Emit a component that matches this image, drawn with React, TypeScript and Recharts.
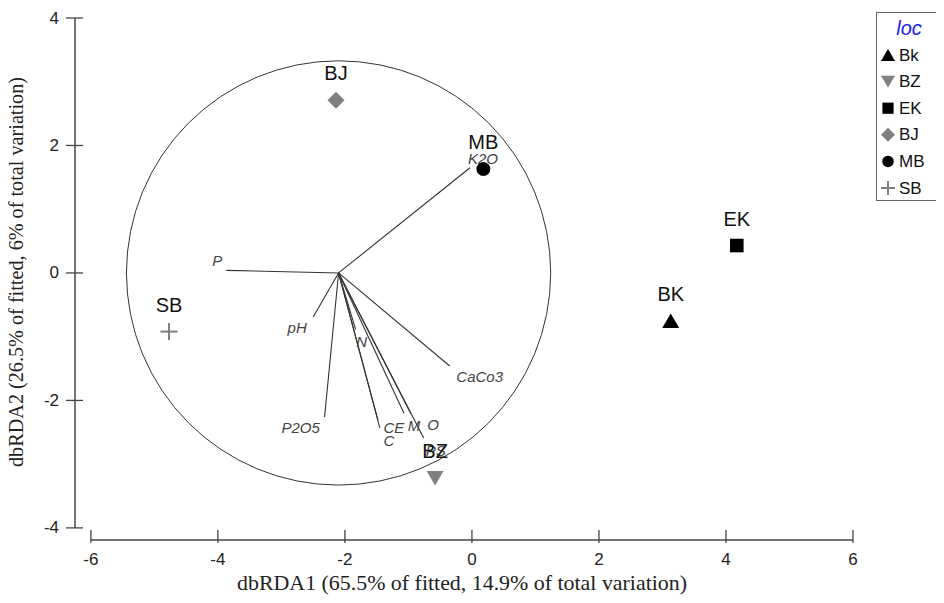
import {
  Label,
  Legend,
  ReferenceDot,
  ReferenceLine,
  Scatter,
  ScatterChart,
  XAxis,
  YAxis,
} from "recharts";

// sample scores (dbRDA1, dbRDA2) per location
const sites = ["BK", "BZ", "EK", "BJ", "MB", "SB"];
const legendLabels = ["Bk", "BZ", "EK", "BJ", "MB", "SB"];
const dbRDA1 = [3.13, -0.58, 4.17, -2.14, 0.18, -4.77];
const dbRDA2 = [-0.75, -3.22, 0.43, 2.71, 1.63, -0.92];

// predictor vectors, drawn from the vector origin
const vectorNames = ["P", "K2O", "pH", "P2O5", "N", "CE", "C", "M", "O", "PS", "CaCo3"];
const vectorX = [-3.87, -0.03, -2.5, -2.32, -1.83, -1.48, -1.45, -1.07, -0.96, -0.76, -0.35];
const vectorY = [0.04, 1.65, -0.69, -2.26, -0.89, -2.31, -2.43, -2.2, -2.21, -2.59, -1.46];
const vectorOrigin = { x: -2.1, y: 0 };
const circleRadius = 3.34;

const xTicks = [-6, -4, -2, 0, 2, 4, 6];
const yTicks = [-4, -2, 0, 2, 4];

const X_DOMAIN: [number, number] = [-6.25, 6];
const Y_DOMAIN: [number, number] = [-4.19, 4];

const CHART_W = 944;
const CHART_H = 603;
const AXIS_W = 75;
const AXIS_H = 63;
const MARGIN = { top: 18, right: 91, bottom: 0, left: 0 };
const PX_PER_UNIT = (CHART_W - AXIS_W - MARGIN.right) / (X_DOMAIN[1] - X_DOMAIN[0]);

const SANS = "'Liberation Sans', Arial, sans-serif";
const SERIF = "'Liberation Serif', 'Times New Roman', serif";
const AXIS_COLOR = "#444";
const GREY = "#7f7f7f";

const markerStyle: Record<string, { fill: string }> = {
  BK: { fill: "#000" },
  BZ: { fill: GREY },
  EK: { fill: "#000" },
  BJ: { fill: GREY },
  MB: { fill: "#000" },
  SB: { fill: GREY },
};

// label nudges (pixels) for vector names, relative to the arrow tip
const vectorLabelOffset: Record<string, [number, number]> = {
  P: [-9, -10],
  K2O: [13, -9],
  pH: [-16, 11],
  P2O5: [-24, 11],
  N: [6, 12],
  CE: [16, 7],
  C: [9, 13],
  M: [10, 12],
  O: [22, 11],
  PS: [12, 12],
  CaCo3: [30, 10],
};

const sampleData = sites.map((name, i) => ({ name, x: dbRDA1[i], y: dbRDA2[i] }));
const vectorData = vectorNames.map((name, i) => ({ name, x: vectorX[i], y: vectorY[i] }));

const Marker = ({ kind, cx, cy, s }: { kind: string; cx: number; cy: number; s: number }) => {
  const fill = markerStyle[kind].fill;
  const h = s / 2;
  switch (kind) {
    case "BK":
      return <polygon points={`${cx - h},${cy + h * 0.85} ${cx + h},${cy + h * 0.85} ${cx},${cy - h * 0.85}`} fill={fill} />;
    case "BZ":
      return <polygon points={`${cx - h},${cy - h * 0.85} ${cx + h},${cy - h * 0.85} ${cx},${cy + h * 0.85}`} fill={fill} />;
    case "EK":
      return <rect x={cx - h * 0.8} y={cy - h * 0.8} width={s * 0.8} height={s * 0.8} fill={fill} />;
    case "BJ":
      return <polygon points={`${cx},${cy - h} ${cx + h},${cy} ${cx},${cy + h} ${cx - h},${cy}`} fill={fill} />;
    case "MB":
      return <circle cx={cx} cy={cy} r={h * 0.82} fill={fill} />;
    default:
      return (
        <g stroke={fill} strokeWidth={2}>
          <line x1={cx - h} x2={cx + h} y1={cy} y2={cy} />
          <line x1={cx} x2={cx} y1={cy - h} y2={cy + h} />
        </g>
      );
  }
};

const SampleShape = (props: any) => {
  const { cx, cy, payload } = props;
  return (
    <g>
      <Marker kind={payload.name} cx={cx} cy={cy} s={17} />
      <text
        x={cx}
        y={cy - 27}
        textAnchor="middle"
        dominantBaseline="central"
        fontFamily={SANS}
        fontSize={20}
        fill="#111"
      >
        {payload.name}
      </text>
    </g>
  );
};

const VectorLabel = (props: any) => {
  const { cx, cy, payload } = props;
  const [dx, dy] = vectorLabelOffset[payload.name] ?? [0, 0];
  return (
    <text
      x={cx + dx}
      y={cy + dy}
      textAnchor="middle"
      dominantBaseline="central"
      fontFamily={SANS}
      fontStyle="italic"
      fontSize={15}
      fill="#444"
    >
      {payload.name}
    </text>
  );
};

const XTick = ({ x, y, payload }: any) => (
  <g>
    <line x1={x} x2={x} y1={y - 10} y2={y + 3} stroke={AXIS_COLOR} strokeWidth={1.3} />
    <text x={x} y={y + 25} textAnchor="middle" fontFamily={SANS} fontSize={17} fill="#222">
      {payload.value}
    </text>
  </g>
);

const YTick = ({ x, y, payload }: any) => (
  <g>
    <line x1={x - 9} x2={x + 8} y1={y} y2={y} stroke={AXIS_COLOR} strokeWidth={1.3} />
    <text x={x - 16} y={y} textAnchor="end" dominantBaseline="central" fontFamily={SANS} fontSize={17} fill="#222">
      {payload.value}
    </text>
  </g>
);

const LegendBox = () => {
  const rowY = (i: number) => 43 + i * 26.6;
  return (
    <svg width={66} height={190} style={{ display: "block" }}>
      <rect x={0.5} y={0.5} width={64} height={188} fill="#fff" stroke="#666" />
      <text
        x={33}
        y={16}
        textAnchor="middle"
        dominantBaseline="central"
        fontFamily={SANS}
        fontStyle="italic"
        fontSize={20}
        fill="#2020ee"
      >
        loc
      </text>
      {sites.map((kind, i) => (
        <g key={kind}>
          <Marker kind={kind} cx={12} cy={rowY(i)} s={14} />
          <text
            x={23}
            y={rowY(i)}
            dominantBaseline="central"
            fontFamily={SANS}
            fontSize={17}
            fill="#111"
          >
            {legendLabels[i]}
          </text>
        </g>
      ))}
    </svg>
  );
};

export default function App() {
  return (
    <div style={{ margin: -8, width: CHART_W, height: CHART_H, background: "#fff" }}>
      <ScatterChart width={CHART_W} height={CHART_H} margin={MARGIN}>
        <XAxis
          type="number"
          dataKey="x"
          domain={X_DOMAIN}
          ticks={xTicks}
          allowDataOverflow
          height={AXIS_H}
          axisLine={false}
          tickLine={false}
          tickSize={0}
          tickMargin={0}
          tick={<XTick />}
        >
          <Label
            content={({ viewBox }: any) => (
              <text
                x={viewBox.x + viewBox.width / 2 - 2}
                y={viewBox.y + 50}
                textAnchor="middle"
                fontFamily={SERIF}
                fontSize={21}
                textLength={450}
                lengthAdjust="spacingAndGlyphs"
                fill="#222"
              >
                dbRDA1 (65.5% of fitted, 14.9% of total variation)
              </text>
            )}
          />
        </XAxis>
        <YAxis
          type="number"
          dataKey="y"
          domain={Y_DOMAIN}
          ticks={yTicks}
          allowDataOverflow
          width={AXIS_W}
          axisLine={false}
          tickLine={false}
          tickSize={0}
          tickMargin={0}
          tick={<YTick />}
        >
          <Label
            content={() => (
              <text
                transform="translate(16,272) rotate(-90)"
                textAnchor="middle"
                dominantBaseline="central"
                fontFamily={SERIF}
                fontSize={20}
                textLength={390}
                lengthAdjust="spacingAndGlyphs"
                fill="#222"
              >
                dbRDA2 (26.5% of fitted, 6% of total variation)
              </text>
            )}
          />
        </YAxis>

        {/* offset axis lines, spanning only the tick range */}
        <ReferenceLine
          segment={[
            { x: xTicks[0], y: Y_DOMAIN[0] },
            { x: xTicks[xTicks.length - 1], y: Y_DOMAIN[0] },
          ]}
          stroke={AXIS_COLOR}
          strokeWidth={1.5}
          ifOverflow="visible"
        />
        <ReferenceLine
          segment={[
            { x: X_DOMAIN[0], y: yTicks[0] },
            { x: X_DOMAIN[0], y: yTicks[yTicks.length - 1] },
          ]}
          stroke={AXIS_COLOR}
          strokeWidth={1.5}
          ifOverflow="visible"
        />

        {/* correlation circle */}
        <ReferenceDot
          x={vectorOrigin.x}
          y={vectorOrigin.y}
          r={circleRadius * PX_PER_UNIT}
          fill="none"
          stroke="#333"
          strokeWidth={1}
          ifOverflow="visible"
        />

        {vectorData.map((v) => (
          <ReferenceLine
            key={v.name}
            segment={[
              { x: vectorOrigin.x, y: vectorOrigin.y },
              { x: v.x, y: v.y },
            ]}
            stroke="#333"
            strokeWidth={1.1}
            ifOverflow="visible"
          />
        ))}

        <Scatter
          name="vectors"
          data={vectorData}
          shape={<VectorLabel />}
          isAnimationActive={false}
        />
        <Scatter
          name="loc"
          data={sampleData}
          shape={<SampleShape />}
          isAnimationActive={false}
        />

        <Legend
          layout="horizontal"
          verticalAlign="middle"
          align="center"
          wrapperStyle={{ left: 876, top: 12, right: "auto", bottom: "auto", width: 66, height: 190 }}
          content={() => <LegendBox />}
        />
      </ScatterChart>
    </div>
  );
}
